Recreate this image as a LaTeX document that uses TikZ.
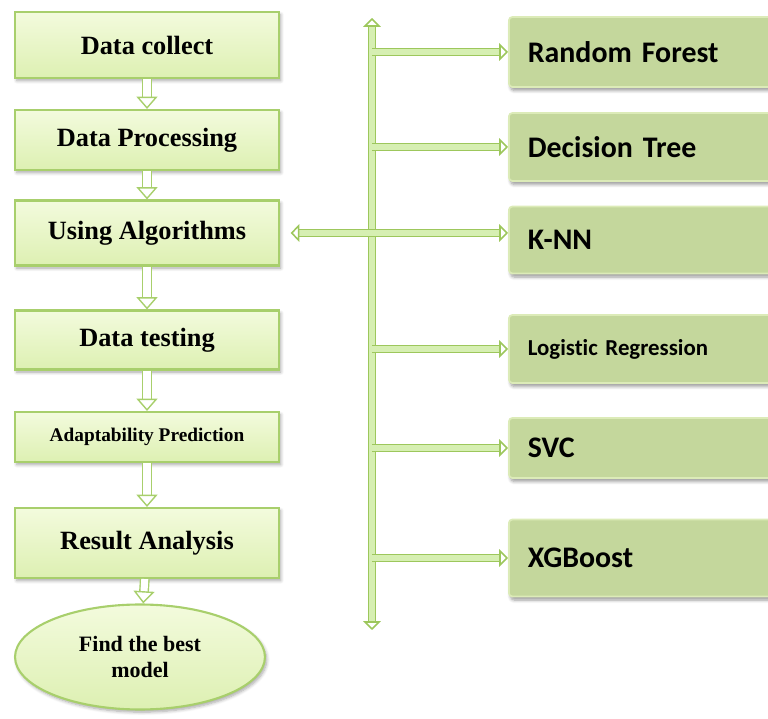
\documentclass[tikz,border=0pt]{standalone}
\usepackage{fontspec}
\setmainfont{Liberation Serif}
\newfontfamily\algfont{Carlito}[Ligatures=NoCommon]
\usetikzlibrary{shapes.geometric,arrows.meta,shadows.blur,positioning}

\definecolor{stagetop}{HTML}{F3FBDD}
\definecolor{stagebot}{HTML}{DDF0B2}
\definecolor{stageedge}{HTML}{A8CF6C}
\definecolor{modelfill}{HTML}{C4D79C}
\definecolor{modeledge}{HTML}{DCEBB8}
\definecolor{railedge}{HTML}{9DC75C}
\definecolor{railfill}{HTML}{D6EFB2}

\begin{document}
\begin{tikzpicture}[x=0.02cm, y=-0.02cm,
    stage/.style={rectangle, draw=stageedge, line width=1.2pt, top color=stagetop, bottom color=stagebot,
        minimum width=5.28cm, font=\bfseries\fontsize{15}{17}\selectfont,
        blur shadow={shadow blur steps=6, shadow xshift=1pt, shadow yshift=-1.5pt, shadow opacity=35}},
    model/.style={rectangle, rounded corners=2pt, draw=modeledge, line width=1pt, fill=modelfill,
        anchor=west, text width=5.2cm, inner xsep=0.38cm, align=left,
        font=\algfont\bfseries\fontsize{17}{19}\selectfont,
        blur shadow={shadow blur steps=6, shadow xshift=1pt, shadow yshift=-2pt, shadow opacity=40}},
    flow/.style={draw=stageedge, line width=0.8pt, double=white, double distance=4pt,
        -{Triangle[open, length=7pt, width=12pt]}},
    rail/.style={draw=railedge, line width=0.9pt, double=railfill, double distance=3pt,
        -{Triangle[open, length=5pt, width=10pt]}}
]
\useasboundingbox (0,0) rectangle (768,719);

% Left column: steps
\node[stage, minimum height=1.32cm] (collect) at (147,45) {Data collect};
\node[stage, minimum height=1.2cm] (process) at (147,140) {Data Processing};
\node[stage, minimum height=1.3cm] (algo) at (147,233) {Using Algorithms};
\node[stage, minimum height=1.18cm] (test) at (147,340) {Data testing};
\node[stage, minimum height=1.0cm, font=\bfseries\fontsize{11}{13}\selectfont] (adapt) at (147,437) {Adaptability Prediction};
\node[stage, minimum height=1.4cm] (result) at (147,543) {Result Analysis};
\node[ellipse, draw=stageedge, line width=1.2pt, top color=stagetop, bottom color=stagebot,
    minimum width=5cm, minimum height=2.1cm, align=center, font=\bfseries\fontsize{12.5}{15}\selectfont,
    blur shadow={shadow blur steps=6, shadow xshift=1pt, shadow yshift=-1.5pt, shadow opacity=35}]
    (best) at (140,657) {Find the best\\model};

% Right column: algorithms
\node[model, minimum height=1.4cm] (rf) at (508,52) {Random Forest};
\node[model, minimum height=1.36cm] (dt) at (508,147) {Decision Tree};
\node[model, minimum height=1.34cm] (knn) at (508,240) {K-NN};
\node[model, minimum height=1.36cm, font=\algfont\bfseries\fontsize{13}{15}\selectfont] (lr) at (508,349) {Logistic Regression};
\node[model, minimum height=1.2cm] (svc) at (508,448) {SVC};
\node[model, minimum height=1.54cm] (xgb) at (508,558) {XGBoost};

% Rail
\coordinate (railtop) at (372,18);
\coordinate (railbot) at (372,630);
\draw[rail, {Triangle[open, length=5pt, width=10pt]}-{Triangle[open, length=5pt, width=10pt]}] (railbot) -- (railtop);

% Steps flow
\draw[flow] (collect) -- (process);
\draw[flow] (process) -- (algo);
\draw[flow] (algo) -- (test);
\draw[flow] (test) -- (adapt);
\draw[flow] (adapt) -- (result);
\draw[flow] (result) -- (best);

% Branches
\draw[rail] (railtop |- rf.west) -- (rf.west);
\draw[rail] (railtop |- dt.west) -- (dt.west);
\draw[rail, {Triangle[open, length=5pt, width=10pt]}-{Triangle[open, length=5pt, width=10pt]}] ([xshift=6pt]algo.east) -- (algo.east -| knn.west);
\draw[rail] (railtop |- lr.west) -- (lr.west);
\draw[rail] (railtop |- svc.west) -- (svc.west);
\draw[rail] (railtop |- xgb.west) -- (xgb.west);

\end{tikzpicture}
\end{document}
